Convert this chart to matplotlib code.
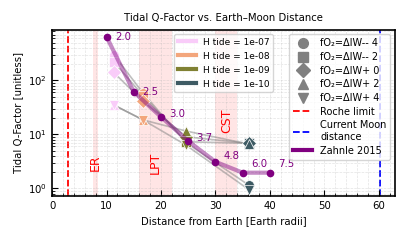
import matplotlib
matplotlib.use("Agg")
import matplotlib.pyplot as plt
from matplotlib.lines import Line2D

# Zahnle 2015 reference curve
zahnle_dist = [10, 15, 20, 25, 30, 35, 40]
zahnle_q = [640, 61, 21, 7.5, 3.1, 1.95, 1.95]
zahnle_lbl = ["2.0", "2.5", "3.0", "3.7", "4.8", "6.0", "7.5"]

# model runs: one distance per H tide value, one Q per fO2 value
h_tide = ["1e-07", "1e-08", "1e-09", "1e-10"]
h_dist = [11.3, 16.7, 24.6, 36.1]
h_colors = ["#f9ccf9", "#f3a67c", "#808133", "#3d5a63"]

fo2_labels = ["fO₂=ΔIW-- 4", "fO₂=ΔIW-- 2", "fO₂=ΔIW+ 0", "fO₂=ΔIW+ 2", "fO₂=ΔIW+ 4"]
fo2_markers = ["o", "s", "D", "^", "v"]
q_fo2_m4 = [300, 58, 7.0, 1.15]
q_fo2_m2 = [220, 52, 7.3, 6.8]
q_fo2_p0 = [140, 41, 9.0, 6.8]
q_fo2_p2 = [35, 18.5, 11.5, 6.6]
q_fo2_p4 = [35, 18.5, 6.3, 0.95]
q_runs = [q_fo2_m4, q_fo2_m2, q_fo2_p0, q_fo2_p2, q_fo2_p4]

roche = 3.0
moon_now = 60.3
phases = [("ER", 7.5, 8.5, 3.0), ("LPT", 16, 22, 3.0), ("CST", 30, 34, 18)]

fig = plt.figure(figsize=(4.07, 2.4), dpi=100)
ax = fig.add_axes([0.128, 0.183, 0.843, 0.694])

# shaded phases
for name, x0, x1, ytxt in phases:
    ax.axvspan(x0, x1, color="red", alpha=0.1, lw=0, zorder=0)
    ax.text((x0 + x1) / 2, ytxt, name, color="red", rotation=90,
            ha="center", va="center", fontsize=9)

ax.axvline(roche, color="red", ls="--", lw=1.3, zorder=1)
ax.axvline(moon_now, color="blue", ls="--", lw=1.3, zorder=1)

# grey connectors for each fO2 across H tide values
for q in q_runs:
    ax.plot(h_dist, q, color="grey", alpha=0.5, lw=1.2, zorder=2)

# markers
for q, m in zip(q_runs, fo2_markers):
    for xd, qv, c in zip(h_dist, q, h_colors):
        ax.plot(xd, qv, marker=m, color=c, ms=7, mec="white", mew=0.5,
                ls="none", zorder=3)

# Zahnle curve
ax.plot(zahnle_dist, zahnle_q, color="purple", lw=3, alpha=0.45, zorder=4)
ax.plot(zahnle_dist, zahnle_q, "o", color="purple", ms=4.5, zorder=5)
dy = [0, 0, 2, 2, 4, 6, 6]
for xd, qv, t, d in zip(zahnle_dist, zahnle_q, zahnle_lbl, dy):
    ax.annotate(t, (xd, qv), xytext=(6, d), textcoords="offset points",
                color="purple", fontsize=7.3, va="center")

ax.set_yscale("log")
ax.set_xlim(0, 63)
ax.set_ylim(0.72, 870)
ax.minorticks_on()
ax.tick_params(which="both", direction="in", labelsize=7.3)
ax.tick_params(which="major", length=4)
ax.tick_params(which="minor", length=2)
ax.grid(True, which="both", ls="--", lw=0.5, alpha=0.35)
for s in ax.spines.values():
    s.set_linewidth(1.2)

ax.set_title("Tidal Q-Factor vs. Earth–Moon Distance", fontsize=7.3)
ax.set_xlabel("Distance from Earth [Earth radii]", fontsize=7.3)
ax.set_ylabel("Tidal Q-Factor [unitless]", fontsize=7.3)

# legends
h_handles = [Line2D([], [], color=c, lw=3) for c in h_colors]
leg1 = ax.legend(h_handles, ["H tide = " + h for h in h_tide],
                 loc="upper center", fontsize=6.5, framealpha=0.8,
                 labelspacing=0.55)
ax.add_artist(leg1)

f_handles = [Line2D([], [], marker=m, color="grey", ls="none", ms=7)
             for m in fo2_markers]
f_handles += [Line2D([], [], color="red", ls="--", lw=1.3),
              Line2D([], [], color="blue", ls="--", lw=1.3),
              Line2D([], [], color="purple", lw=3)]
f_labels = fo2_labels + ["Roche limit", "Current Moon\ndistance", "Zahnle 2015"]
ax.legend(f_handles, f_labels, loc="upper right", fontsize=7,
          framealpha=0.8, labelspacing=0.38)

fig.savefig("out.png", dpi=100)
